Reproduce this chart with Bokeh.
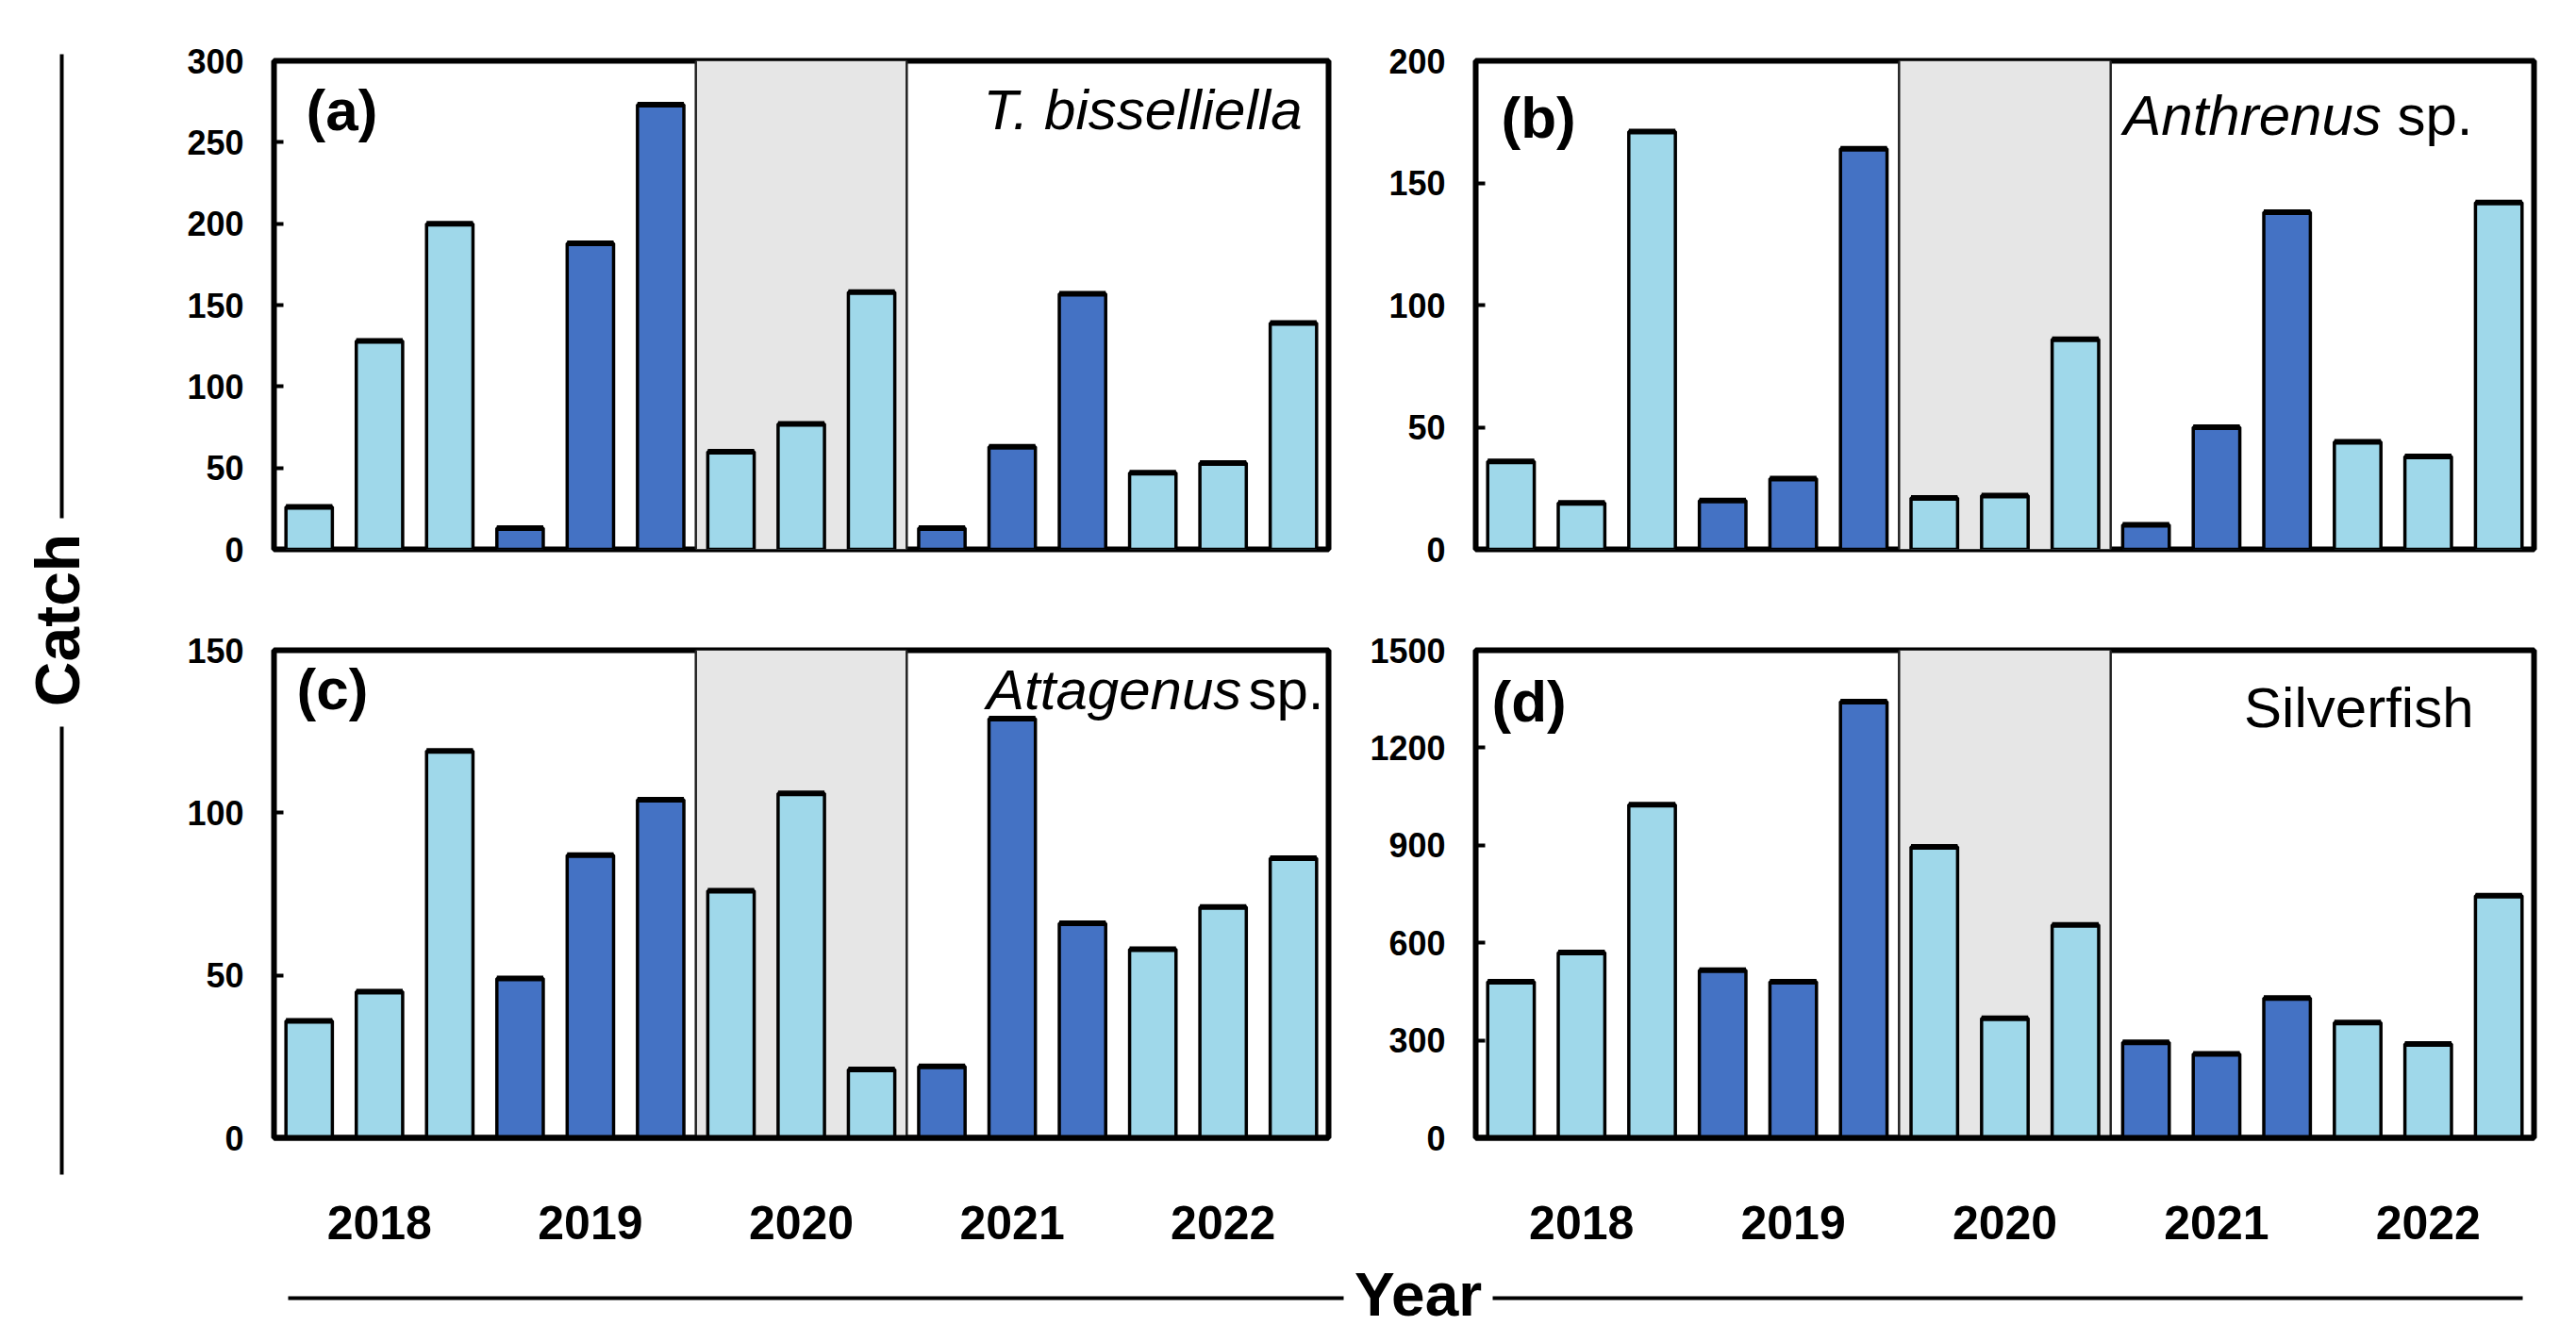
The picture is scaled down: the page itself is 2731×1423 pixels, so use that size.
import math
from bokeh.plotting import figure
from bokeh.models import Range1d, FixedTicker, BoxAnnotation, Span, Label, ColumnDataSource
from bokeh.layouts import row, column
from bokeh.embed import file_html
from bokeh.resources import INLINE
from bokeh.core.properties import value

# ---------------- data ----------------
years = ["2018", "2019", "2020", "2021", "2022"]
bar_pos = list(range(1, 16))          # 3 sampling periods per year
catch_a = [26, 128, 200, 13, 188, 273, 60, 77, 158, 13, 63, 157, 47, 53, 139]   # T. bisselliella
catch_b = [36, 19, 171, 20, 29, 164, 21, 22, 86, 10, 50, 138, 44, 38, 142]      # Anthrenus sp.
catch_c = [36, 45, 119, 49, 87, 104, 76, 106, 21, 22, 129, 66, 58, 71, 86]      # Attagenus sp.
catch_d = [480, 570, 1025, 516, 480, 1342, 895, 368, 655, 294, 258, 430, 355, 289, 745]  # Silverfish
y_max = [300, 200, 150, 1500]
y_step = [50, 50, 50, 300]
tags = ["(a)", "(b)", "(c)", "(d)"]
species = [("T. bisselliella", ""), ("Anthrenus", "sp."), ("Attagenus", "sp."), ("Silverfish", "")]
highlight_year = "2020"

# ---------------- style ----------------
LIGHT = "#9fd8ea"
DARK = "#4472c4"
FONT = "Liberation Sans"
BAR_W = 0.66
BASE_SHIFT = 0.36   # em; correction so the visible baseline lands where intended


def make_panel(vals, ymax, step, tag, sp, show_years, frame_w, frame_h,
               b_left, b_right, b_top, b_bottom, tag_px, sp_px, sp_italic):
    p = figure(frame_width=frame_w, frame_height=frame_h,
               min_border_left=b_left, min_border_right=b_right,
               min_border_top=b_top, min_border_bottom=b_bottom,
               x_range=Range1d(0.5, 15.5), y_range=Range1d(0, ymax),
               output_backend="svg", toolbar_location=None)
    p.background_fill_color = "white"
    p.border_fill_color = "white"
    p.grid.visible = False
    p.outline_line_color = "black"
    p.outline_line_width = 6

    # highlighted year (2020)
    yi = years.index(highlight_year)
    lo, hi = yi * 3 + 0.5, yi * 3 + 3.5
    p.add_layout(BoxAnnotation(left=lo, right=hi, fill_color="#e6e6e6", fill_alpha=1.0,
                               line_alpha=0, level="underlay"))
    for xv in (lo, hi):
        p.add_layout(Span(location=xv, dimension="height", line_color="#222222",
                          line_width=2.5, level="underlay"))

    colors = [DARK if (i // 3) % 2 == 1 else LIGHT for i in range(len(vals))]
    src = ColumnDataSource(dict(x=bar_pos, top=vals, color=colors,
                                x0=[x - BAR_W / 2 for x in bar_pos],
                                x1=[x + BAR_W / 2 for x in bar_pos]))
    p.vbar(x="x", top="top", bottom=0, width=BAR_W, fill_color="color",
           line_color="black", line_width=3.5, source=src)
    p.segment(x0="x0", x1="x1", y0="top", y1="top", line_color="black",
              line_width=6, source=src)

    # y axis
    yax = p.yaxis[0]
    yax.ticker = FixedTicker(ticks=list(range(0, ymax + 1, step)))
    yax.minor_tick_line_color = None
    yax.major_tick_in = 10
    yax.major_tick_out = 0
    yax.major_tick_line_width = 4
    yax.axis_line_width = 5
    yax.major_label_standoff = 32
    yax.major_label_text_font = FONT
    yax.major_label_text_font_style = "bold"
    yax.major_label_text_font_size = "36px"
    yax.major_label_text_color = "black"

    xax = p.xaxis[0]
    if show_years:
        centers = [i * 3 + 2 for i in range(len(years))]
        xax.ticker = FixedTicker(ticks=centers)
        xax.major_label_overrides = {c: y for c, y in zip(centers, years)}
        xax.major_tick_line_color = None
        xax.minor_tick_line_color = None
        xax.axis_line_width = 6
        xax.major_label_standoff = 66
        xax.major_label_text_font = FONT
        xax.major_label_text_font_style = "bold"
        xax.major_label_text_font_size = "50px"
        xax.major_label_text_color = "black"
    else:
        xax.visible = False

    px_x = frame_w / 15.0
    px_y = frame_h / ymax
    # panel tag
    tfs = 62
    p.add_layout(Label(x=0.5 + tag_px[0] / px_x,
                       y=ymax - (tag_px[1] - BASE_SHIFT * tfs) / px_y, text=tag,
                       text_font=FONT, text_font_style="bold", text_font_size=f"{tfs}px",
                       text_align="left", text_baseline="alphabetic", text_color="black"))
    # species label
    fs = 60
    name, suffix = sp
    x_end = 15.5 - sp_px[0] / px_x
    y_base = ymax - (sp_px[1] - BASE_SHIFT * fs) / px_y
    if suffix:
        sp_w = 1.334 * fs
        space = sp_px[2] * fs
        x_suf = x_end - sp_w / px_x
        p.add_layout(Label(x=x_suf, y=y_base, text=suffix, text_font=FONT,
                           text_font_size=f"{fs}px", text_align="left",
                           text_baseline="alphabetic", text_color="black"))
        p.add_layout(Label(x=x_suf - space / px_x, y=y_base, text=name, text_font=FONT,
                           text_font_style="italic", text_font_size=f"{fs}px",
                           text_align="right", text_baseline="alphabetic", text_color="black"))
    else:
        p.add_layout(Label(x=x_end, y=y_base, text=name, text_font=FONT,
                           text_font_style="italic" if sp_italic else "normal",
                           text_font_size=f"{fs}px", text_align="right",
                           text_baseline="alphabetic", text_color="black"))
    return p


TOP_H = 64 + 518 + 58       # 640
BOT_H = 49 + 517 + 126      # 692
YEAR_H = 87
H_TOTAL = TOP_H + BOT_H + YEAR_H
CATCH_W = 158

fa = make_panel(catch_a, y_max[0], y_step[0], tags[0], species[0], False, 1118, 518,
                132, 20, 64, 58, (34, 74), (28, 74, 0.278), True)
fb = make_panel(catch_b, y_max[1], y_step[1], tags[1], species[1], False, 1122, 518,
                136, 20, 64, 58, (27, 82), (65, 80, 0.278), True)
fc = make_panel(catch_c, y_max[2], y_step[2], tags[2], species[2], True, 1118, 517,
                132, 20, 49, 126, (24, 63), (5, 64, 0.12), True)
fd = make_panel(catch_d, y_max[3], y_step[3], tags[3], species[3], True, 1122, 517,
                136, 20, 49, 126, (17, 76), (64, 83, 0.278), False)

# ---------------- side label "Catch" ----------------
pc = figure(width=CATCH_W, height=H_TOTAL, x_range=Range1d(0, CATCH_W),
            y_range=Range1d(-H_TOTAL, 0),
            x_axis_type=None, y_axis_type=None, output_backend="svg", toolbar_location=None,
            min_border=0)
pc.outline_line_color = None
pc.grid.visible = False
pc.text(x=[60], y=[-657], text=["Catch"], angle=math.pi / 2,
        text_font=value(FONT), text_font_style="bold", text_font_size="66px",
        text_align="center", text_baseline="middle", text_color="black")
pc.segment(x0=[65, 65], x1=[65, 65], y0=[-57, -770], y1=[-549, -1245],
           line_color="black", line_width=4)

# ---------------- bottom label "Year" ----------------
W_RIGHT = 1270 + 1278
y_top = TOP_H + BOT_H
py = figure(width=W_RIGHT, height=YEAR_H, x_range=Range1d(CATCH_W, CATCH_W + W_RIGHT),
            y_range=Range1d(-(y_top + YEAR_H), -y_top), x_axis_type=None, y_axis_type=None,
            output_backend="svg", toolbar_location=None, min_border=0)
py.outline_line_color = None
py.grid.visible = False
yfs = 64
py.text(x=[1503], y=[-(1396 - BASE_SHIFT * yfs)], text=["Year"], text_font=value(FONT),
        text_font_style="bold", text_font_size=f"{yfs}px", text_align="center",
        text_baseline="alphabetic", text_color="black")
py.segment(x0=[305, 1582], x1=[1424, 2674], y0=[-1376, -1376], y1=[-1376, -1376],
           line_color="black", line_width=4)

layout = row(pc, column(row(fa, fb, spacing=0), row(fc, fd, spacing=0), py, spacing=0), spacing=0)

with open("out.html", "w") as f:
    f.write(file_html(layout, INLINE))
